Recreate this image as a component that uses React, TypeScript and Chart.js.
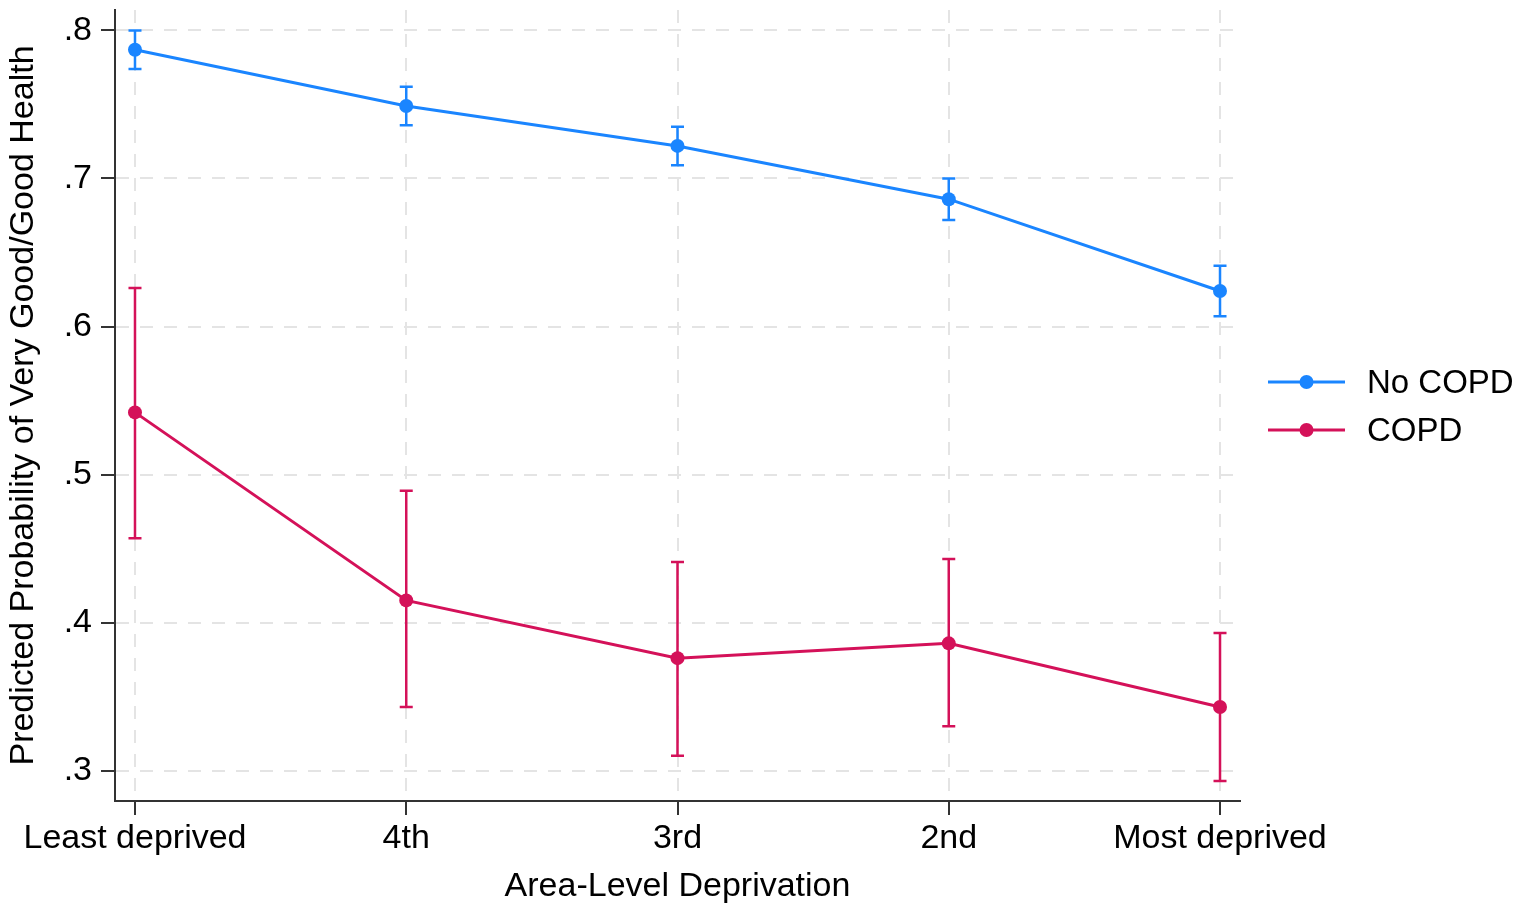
import React, { useEffect, useRef } from "react";
import { Chart, registerables } from "chart.js";

Chart.register(...registerables);

const categories = ["Least deprived", "4th", "3rd", "2nd", "Most deprived"];
const seriesNames = ["No COPD", "COPD"];
const noCopd = [0.787, 0.749, 0.722, 0.686, 0.624];
const noCopdLow = [0.774, 0.736, 0.709, 0.672, 0.607];
const noCopdHigh = [0.8, 0.762, 0.735, 0.7, 0.641];
const copd = [0.542, 0.415, 0.376, 0.386, 0.343];
const copdLow = [0.457, 0.343, 0.31, 0.33, 0.293];
const copdHigh = [0.626, 0.489, 0.441, 0.443, 0.393];
const yTickValues = [0.3, 0.4, 0.5, 0.6, 0.7, 0.8];
const yTickLabels = [".3", ".4", ".5", ".6", ".7", ".8"];

const BLUE = "#1A85FF";
const RED = "#D41159";
const FONT = "'Liberation Sans', Arial, Helvetica, sans-serif";

export default function App() {
  const ref = useRef<HTMLCanvasElement | null>(null);

  useEffect(() => {
    if (!ref.current) return;
    const lows = [noCopdLow, copdLow];
    const highs = [noCopdHigh, copdHigh];
    const colors = [BLUE, RED];

    const errorBars = {
      id: "errorBars",
      beforeDatasetsDraw(chart: any) {
        const ctx = chart.ctx;
        const xs = chart.scales.x;
        const ys = chart.scales.y;
        ctx.save();
        for (let d = 0; d < 2; d++) {
          ctx.strokeStyle = colors[d];
          ctx.lineWidth = 2.5;
          for (let j = 0; j < categories.length; j++) {
            const x = xs.getPixelForValue(j);
            const y1 = ys.getPixelForValue(lows[d][j]);
            const y2 = ys.getPixelForValue(highs[d][j]);
            ctx.beginPath();
            ctx.moveTo(x, y1);
            ctx.lineTo(x, y2);
            ctx.moveTo(x - 6.5, y1);
            ctx.lineTo(x + 6.5, y1);
            ctx.moveTo(x - 6.5, y2);
            ctx.lineTo(x + 6.5, y2);
            ctx.stroke();
          }
        }
        ctx.restore();
      },
    };

    const legendPlugin = {
      id: "customLegend",
      afterDraw(chart: any) {
        const ctx = chart.ctx;
        ctx.save();
        const baseY = 382;
        for (let d = 0; d < 2; d++) {
          const y = baseY + d * 48;
          ctx.strokeStyle = colors[d];
          ctx.lineWidth = 3;
          ctx.beginPath();
          ctx.moveTo(1268, y);
          ctx.lineTo(1345, y);
          ctx.stroke();
          ctx.fillStyle = colors[d];
          ctx.beginPath();
          ctx.arc(1306.5, y, 7, 0, Math.PI * 2);
          ctx.fill();
          ctx.fillStyle = "#000";
          ctx.font = `33px ${FONT}`;
          ctx.textBaseline = "middle";
          ctx.textAlign = "left";
          ctx.fillText(seriesNames[d], 1367, y + 2);
        }
        ctx.restore();
      },
    };

    const gridCommon = {
      color: "#e4e4e4",
      lineWidth: 2,
      tickColor: "#333",
      tickWidth: 2,
      tickLength: 14,
      tickBorderDash: [],
    };
    const borderCommon = { display: true, color: "#333", width: 2, dash: [13, 11] };

    const chart = new Chart(ref.current, {
      type: "line",
      data: {
        datasets: [
          {
            label: seriesNames[0],
            data: noCopd.map((v, i) => ({ x: i, y: v })),
            borderColor: BLUE,
            backgroundColor: BLUE,
            borderWidth: 3,
            pointRadius: 7,
            pointBorderWidth: 0,
            tension: 0,
          },
          {
            label: seriesNames[1],
            data: copd.map((v, i) => ({ x: i, y: v })),
            borderColor: RED,
            backgroundColor: RED,
            borderWidth: 3,
            pointRadius: 7,
            pointBorderWidth: 0,
            tension: 0,
          },
        ],
      },
      options: {
        responsive: false,
        animation: false,
        devicePixelRatio: 1,
        layout: { padding: { top: 10, right: 284, left: 0, bottom: 0 } },
        plugins: {
          legend: { display: false },
          tooltip: { enabled: false },
        },
        scales: {
          x: {
            type: "linear",
            min: -0.0737,
            max: 4.0737,
            afterBuildTicks: (s: any) => {
              s.ticks = categories.map((_, i) => ({ value: i }));
            },
            afterFit: (s: any) => {
              s.height = 111;
              s.paddingLeft = 0;
              s.paddingRight = 0;
            },
            grid: gridCommon,
            border: borderCommon,
            ticks: {
              autoSkip: false,
              maxRotation: 0,
              padding: 3,
              color: "#000",
              font: { family: FONT, size: 34 },
              callback: (v: any) => categories[v as number] ?? "",
            },
            title: {
              display: true,
              text: "Area-Level Deprivation",
              color: "#000",
              font: { family: FONT, size: 34 },
              padding: { top: 0, bottom: 5 },
            },
          },
          y: {
            type: "linear",
            min: 0.2795,
            max: 0.8138,
            afterBuildTicks: (s: any) => {
              s.ticks = yTickValues.map((v) => ({ value: v }));
            },
            afterFit: (s: any) => {
              s.width = 115;
              s.paddingTop = 0;
              s.paddingBottom = 0;
            },
            grid: gridCommon,
            border: borderCommon,
            ticks: {
              padding: 9,
              color: "#000",
              font: { family: FONT, size: 34 },
              callback: (_v: any, i: number) => yTickLabels[i],
            },
            title: {
              display: true,
              text: "Predicted Probability of Very Good/Good Health",
              color: "#000",
              font: { family: FONT, size: 34 },
              padding: { top: 3, bottom: 0 },
            },
          },
        },
      },
      plugins: [errorBars, legendPlugin],
    } as any);

    return () => chart.destroy();
  }, []);

  return (
    <div style={{ position: "absolute", left: 0, top: 0, width: 1524, height: 912, background: "#fff" }}>
      <canvas ref={ref} width={1524} height={912} style={{ width: 1524, height: 912, display: "block" }} />
    </div>
  );
}
